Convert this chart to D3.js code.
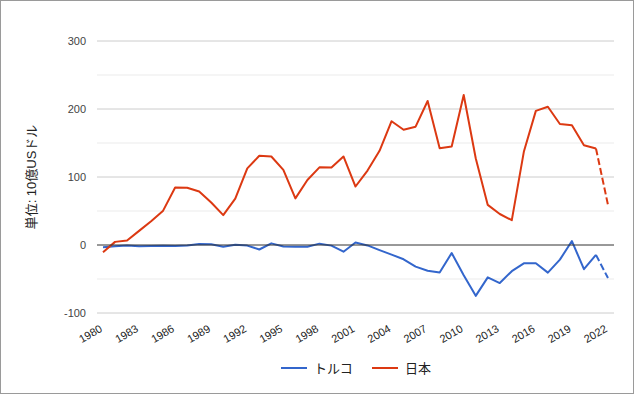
<!DOCTYPE html>
<html>
<head>
<meta charset="utf-8">
<script src="https://cdn.jsdelivr.net/npm/d3@7"></script>
<style>
  body { margin: 0; background: #fff; }
  svg { display: block; font-family: Arial, "Liberation Sans", "Noto Sans CJK JP", sans-serif; }
</style>
</head>
<body>
<svg width="634" height="394"></svg>
<script>
const years = d3.range(1980, 2023);
const tickYears = d3.range(1980, 2023, 3);
const yTicks = [-100, 0, 100, 200, 300];
const seriesNames = ['トルコ', '日本'];
const turkey = [-3.4, -1.9, -0.9, -1.9, -1.4, -1.0, -1.5, -0.8, 1.6, 1.0,
  -2.6, 0.3, -0.9, -6.6, 2.4, -2.3, -2.4, -2.6, 2.0, -0.9,
  -9.9, 3.6, -0.6, -7.5, -14.2, -21.0, -31.8, -37.8, -40.4, -11.8,
  -44.6, -74.8, -47.6, -56.0, -38.5, -27.0, -26.8, -40.6, -21.5, 5.8,
  -35.6, -14.5, -48.6];
const japan = [-10.7, 4.6, 6.6, 20.8, 35.0, 50.5, 84.6, 84.2, 78.6, 62.5,
  44.0, 68.2, 112.6, 131.2, 130.2, 110.5, 68.6, 95.6, 114.2, 114.0,
  130.2, 86.0, 109.5, 138.5, 182.0, 169.5, 174.0, 211.8, 142.3, 144.8,
  220.6, 127.5, 59.0, 45.6, 36.5, 137.0, 197.2, 203.3, 178.0, 176.2,
  146.6, 142.0, 59.0];
const colors = ['#3366cc', '#dc3912'];

const svg = d3.select('svg');
svg.append('rect').attr('x', 0.5).attr('y', 0.5).attr('width', 633).attr('height', 393)
  .attr('fill', '#fff').attr('stroke', '#9a9a9a');

const left = 97, right = 614;
const x = d3.scaleBand().domain(years).range([left, right]);
const xc = d => x(d) + x.bandwidth() / 2;
const y = d3.scaleLinear().domain([-100, 300]).range([313, 41]);

// gridlines
svg.append('g').selectAll('line').data(d3.range(-50, 300, 100)).join('line')
  .attr('x1', left).attr('x2', right).attr('y1', d => y(d)).attr('y2', d => y(d))
  .attr('stroke', '#ebebeb');
svg.append('g').selectAll('line').data(yTicks.filter(d => d !== 0)).join('line')
  .attr('x1', left).attr('x2', right).attr('y1', d => y(d)).attr('y2', d => y(d))
  .attr('stroke', '#cccccc');

// y tick labels
svg.append('g').selectAll('text').data(yTicks).join('text')
  .attr('x', 86).attr('y', d => y(d) + 4)
  .attr('text-anchor', 'end').attr('font-size', 11).attr('fill', '#444')
  .text(d => d);

// axis title
svg.append('text')
  .attr('transform', `translate(36,177) rotate(-90)`)
  .attr('text-anchor', 'middle').attr('font-size', 13).attr('fill', '#222')
  .text('単位: 10億USドル');

// x labels
svg.append('g').selectAll('text').data(tickYears).join('text')
  .attr('transform', d => `translate(${xc(d)},331) rotate(-30)`)
  .attr('text-anchor', 'end').attr('font-size', 11).attr('fill', '#222')
  .text(d => d);

// lines
const line = d3.line().x((d, i) => xc(years[i])).y(d => y(d));
[turkey, japan].forEach((vals, k) => {
  const n = vals.length;
  svg.append('path').datum(vals.slice(0, n - 1))
    .attr('d', line).attr('fill', 'none')
    .attr('stroke', colors[k]).attr('stroke-width', 2).attr('stroke-linejoin', 'round');
  const lastLine = d3.line().x((d, i) => xc(years[n - 2 + i])).y(d => y(d));
  svg.append('path').datum(vals.slice(n - 2))
    .attr('d', lastLine).attr('fill', 'none')
    .attr('stroke', colors[k]).attr('stroke-width', 2).attr('stroke-dasharray', '7,3');
});

// zero baseline
svg.append('line').attr('x1', left).attr('x2', right).attr('y1', y(0)).attr('y2', y(0))
  .attr('stroke', '#333');

// legend
const legendX = [281, 372];
const legend = svg.append('g').selectAll('g').data(seriesNames).join('g')
  .attr('transform', (d, i) => `translate(${legendX[i]},368)`);
legend.append('line').attr('x1', 0).attr('x2', 26).attr('y1', 0).attr('y2', 0)
  .attr('stroke', (d, i) => colors[i]).attr('stroke-width', 2);
legend.append('text').attr('x', 33).attr('y', 5).attr('font-size', 13).attr('fill', '#222')
  .text(d => d);
</script>
</body>
</html>
